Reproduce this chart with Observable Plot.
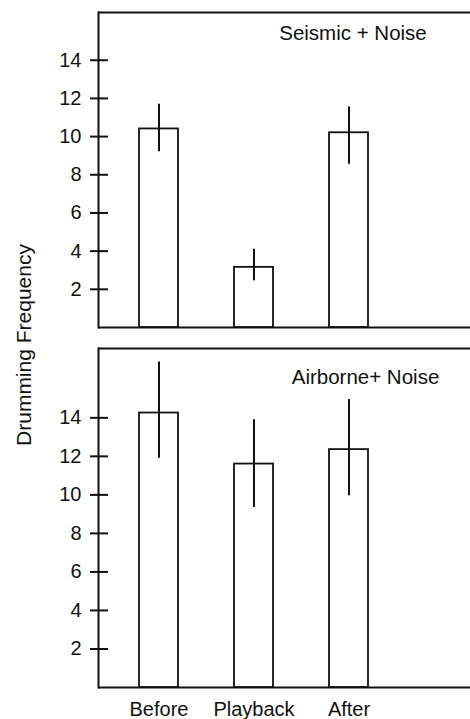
<!DOCTYPE html>
<html>
<head>
<meta charset="utf-8">
<script src="https://cdn.jsdelivr.net/npm/d3@7"></script>
<script src="https://cdn.jsdelivr.net/npm/@observablehq/plot@0.6"></script>
<style>
  html, body { margin: 0; padding: 0; background: white; }
  #wrap { position: relative; width: 470px; height: 719px; overflow: hidden; font-family: "Liberation Sans", Arial, Helvetica, sans-serif; }
  #top, #bottom { position: absolute; left: 0; }
  #top { top: 0; }
  #bottom { top: 340px; }
  #ylabel { position: absolute; left: 24px; top: 345px; transform: translate(-50%, -50%) rotate(-90deg); white-space: nowrap; font-size: 21px; color: #111; }
  #wrap svg g[aria-label="y-axis tick label"] { font-size: 20px; }
</style>
</head>
<body>
<div id="wrap">
  <div id="top"></div>
  <div id="bottom"></div>
  <div id="ylabel">Drumming Frequency</div>
</div>
<script>
const categories = ["Before", "Playback", "After"];
const yTicks = [2, 4, 6, 8, 10, 12, 14];

const seismicMean = [10.4, 3.15, 10.2];
const seismicLow  = [9.2, 2.45, 8.55];
const seismicHigh = [11.7, 4.1, 11.55];

const airborneMean = [14.25, 11.6, 12.35];
const airborneLow  = [11.9, 9.35, 9.95];
const airborneHigh = [16.9, 13.9, 14.95];

const panelTitles = ["Seismic + Noise", "Airborne+ Noise"];

const font = '"Liberation Sans", Arial, Helvetica, sans-serif';

function rows(mean, low, high) {
  return categories.map((c, i) => ({cat: c, mean: mean[i], lo: low[i], hi: high[i]}));
}

function panel({data, title, height, marginTop, marginBottom, yMax, titleDx, titleDy, showX}) {
  return Plot.plot({
    width: 470,
    height,
    marginLeft: 98,
    marginRight: 0,
    marginTop,
    marginBottom,
    style: {fontFamily: font, background: "white", color: "#111", overflow: "visible"},
    x: {domain: categories, range: [110, 397.5], paddingInner: 0.59, paddingOuter: 0.295, axis: null, label: null},
    y: {domain: [0, yMax], axis: null, label: null},
    marks: [
      Plot.barY(data, {x: "cat", y: "mean", fill: "white", stroke: "#111", strokeWidth: 1.8}),
      Plot.ruleX(data, {x: "cat", y1: "lo", y2: "hi", stroke: "#111", strokeWidth: 2}),
      Plot.ruleY([0, yMax], {stroke: "#111", strokeWidth: 2}),
      Plot.frame({anchor: "left", stroke: "#111", strokeWidth: 2}),
      Plot.axisY({ticks: yTicks, tickSize: 18, dx: 10, tickPadding: 9, fontSize: 20, strokeWidth: 2, stroke: "#111", fill: "#111", label: null}),
      showX ? Plot.axisX({tickSize: 0, tickPadding: 14, fontSize: 20, fill: "#111", label: null}) : null,
      Plot.text([title], {frameAnchor: "top-left", lineAnchor: "middle", dx: titleDx, dy: titleDy, textAnchor: "middle", fontSize: 20.5, fill: "#111"})
    ]
  });
}

document.getElementById("top").appendChild(panel({
  data: rows(seismicMean, seismicLow, seismicHigh),
  title: panelTitles[0],
  height: 340, marginTop: 12, marginBottom: 13, yMax: 16.5,
  titleDx: 254.5, titleDy: 20.5, showX: false
}));

document.getElementById("bottom").appendChild(panel({
  data: rows(airborneMean, airborneLow, airborneHigh),
  title: panelTitles[1],
  height: 379, marginTop: 8, marginBottom: 32, yMax: 17.6,
  titleDx: 267, titleDy: 28.5, showX: true
}));
</script>
</body>
</html>
